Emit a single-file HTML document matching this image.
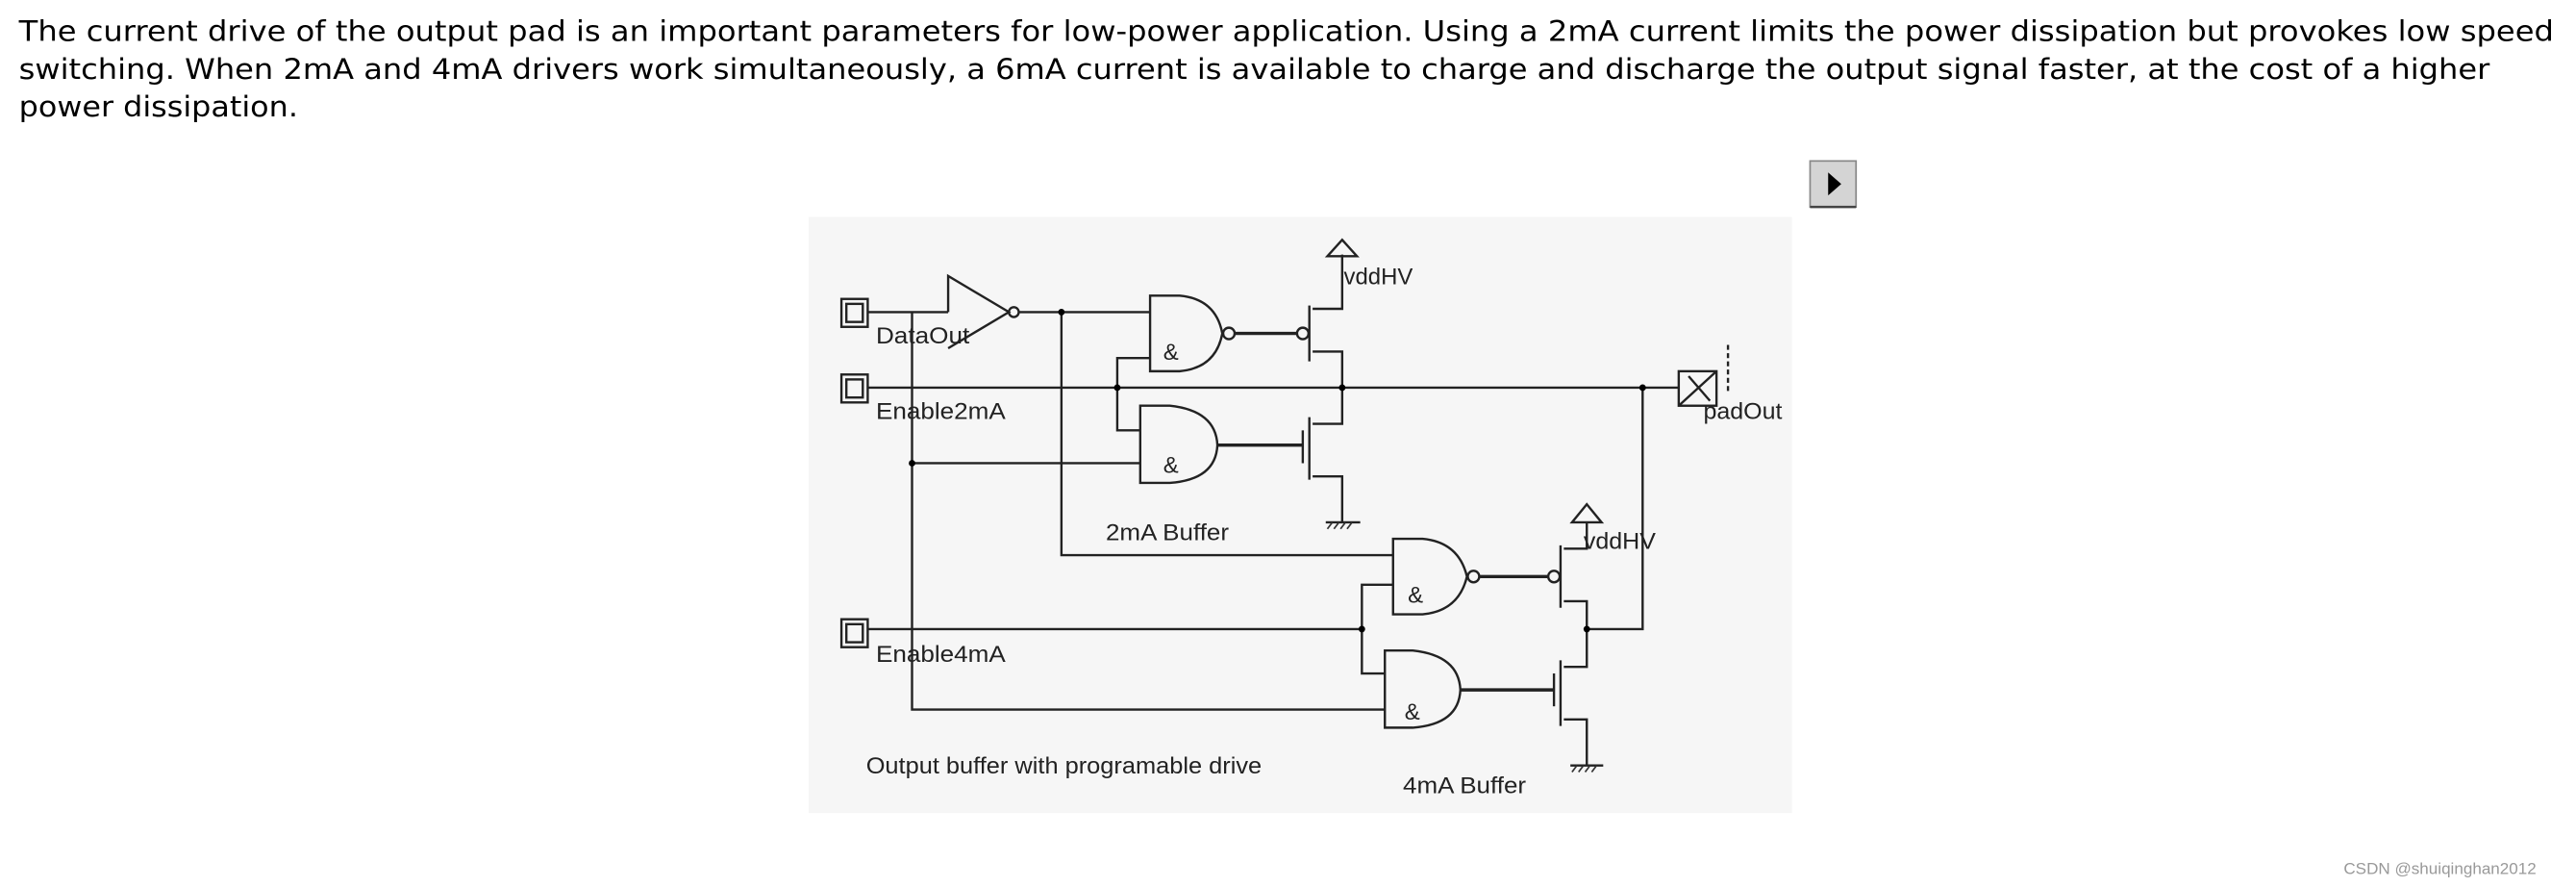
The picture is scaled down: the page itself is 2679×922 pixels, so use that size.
<!DOCTYPE html>
<html><head><meta charset="utf-8"><style>
html,body{margin:0;padding:0;background:#fff;width:2679px;height:922px;overflow:hidden}
svg{display:block}
</style></head><body>
<svg width="2679" height="922" viewBox="0 0 1568 540" xmlns="http://www.w3.org/2000/svg">
<g font-family="DejaVu Sans, Verdana, sans-serif" font-size="17" fill="#000">
<text x="11" y="25" textLength="1544" lengthAdjust="spacingAndGlyphs">The current drive of the output pad is an important parameters for low-power application. Using a 2mA current limits the power dissipation but provokes low speed</text>
<text x="11" y="48" textLength="1505" lengthAdjust="spacingAndGlyphs">switching. When 2mA and 4mA drivers work simultaneously, a 6mA current is available to charge and discharge the output signal faster, at the cost of a higher</text>
<text x="11" y="71" textLength="170" lengthAdjust="spacingAndGlyphs">power dissipation.</text>
</g>
<rect x="1102" y="98" width="28" height="28" fill="#d4d4d4" stroke="#888"/>
<line x1="1102" y1="126" x2="1130" y2="126" stroke="#444" stroke-width="1.5"/>
<polygon points="1113,105 1121,112 1113,119" fill="#000"/>
<rect x="492" y="132" width="599" height="363" fill="#f6f6f6"/>
<g stroke="#222" stroke-width="1.4" fill="none">
<rect x="512" y="182" width="16" height="17"/><rect x="515" y="185" width="10" height="11"/>
<rect x="512" y="228" width="16" height="17"/><rect x="515" y="231" width="10" height="11"/>
<rect x="512" y="377" width="16" height="17"/><rect x="515" y="380" width="10" height="11"/>
<line x1="528" y1="190" x2="577" y2="190"/>
<polyline points="577,190 577,168 614,190 577,212"/>
<circle cx="617" cy="190" r="3"/>
<line x1="620" y1="190" x2="700" y2="190"/>
<polyline points="646,190 646,338 848,338"/>
<polyline points="555,190 555,432 843,432"/>
<line x1="555" y1="282" x2="694" y2="282"/>
<line x1="528" y1="236" x2="1022" y2="236"/>
<polyline points="700,218 680,218 680,262 694,262"/>
<path d="M700,180 L718,180 Q740,182 744,203 Q740,224 718,226 L700,226 Z"/>
<circle cx="748" cy="203" r="3.5"/>
<line x1="752" y1="203" x2="789" y2="203" stroke-width="2"/>
<circle cx="793" cy="203" r="3.5"/>
<path d="M694,247 L712,247 Q740,250 741,271 Q740,292 712,294 L694,294 Z"/>
<line x1="741" y1="271" x2="793" y2="271" stroke-width="2"/>
<line x1="797" y1="186" x2="797" y2="220"/>
<polyline points="799,188 817,188 817,155"/>
<polyline points="799,214 817,214 817,258 799,258"/>
<line x1="797" y1="254" x2="797" y2="292"/>
<line x1="793" y1="262" x2="793" y2="282"/>
<polyline points="799,290 817,290 817,318"/>
<polygon points="808,156 826,156 817,146"/>
<polyline points="1000,236 1000,383 966,383"/>
<path d="M848,328 L866,328 Q888,330 893,351 Q888,372 866,374 L848,374 Z"/>
<circle cx="897" cy="351" r="3.5"/>
<line x1="901" y1="351" x2="942" y2="351" stroke-width="2"/>
<circle cx="946" cy="351" r="3.5"/>
<line x1="528" y1="383" x2="829" y2="383"/>
<polyline points="848,356 829,356 829,410 843,410"/>
<path d="M843,396 L860,396 Q888,399 889,420 Q888,441 860,443 L843,443 Z"/>
<line x1="889" y1="420" x2="946" y2="420" stroke-width="2"/>
<line x1="950" y1="332" x2="950" y2="370"/>
<polyline points="952,334 966,334 966,318"/>
<polyline points="952,366 966,366 966,406 952,406"/>
<line x1="950" y1="402" x2="950" y2="442"/>
<line x1="946" y1="410" x2="946" y2="430"/>
<polyline points="952,438 966,438 966,466"/>
<polygon points="957,318 975,318 966,307"/>
<rect x="1022" y="226" width="23" height="21"/>
<line x1="1022" y1="247" x2="1045" y2="226"/>
<line x1="1028" y1="229" x2="1041" y2="244"/>
<line x1="1052" y1="210" x2="1052" y2="240" stroke-dasharray="3,2"/>
<line x1="807" y1="318" x2="828" y2="318"/>
<line x1="956" y1="466" x2="976" y2="466"/>
</g>
<g stroke="#333" stroke-width="1">
<line x1="808" y1="322" x2="811" y2="318"/><line x1="812" y1="322" x2="815" y2="318"/><line x1="816" y1="322" x2="819" y2="318"/><line x1="820" y1="322" x2="823" y2="318"/>
<line x1="957" y1="470" x2="960" y2="466"/><line x1="961" y1="470" x2="964" y2="466"/><line x1="965" y1="470" x2="968" y2="466"/><line x1="969" y1="470" x2="972" y2="466"/>
</g>
<g fill="#000">
<circle cx="646" cy="190" r="2"/><circle cx="680" cy="236" r="2"/><circle cx="555" cy="282" r="2"/>
<circle cx="817" cy="236" r="2"/><circle cx="1000" cy="236" r="2"/><circle cx="829" cy="383" r="2"/><circle cx="966" cy="383" r="2"/>
</g>
<g font-family="Liberation Sans, Arial, sans-serif" font-size="14" fill="#222">
<text x="533" y="209" textLength="57" lengthAdjust="spacingAndGlyphs">DataOut</text>
<text x="533" y="255" textLength="79" lengthAdjust="spacingAndGlyphs">Enable2mA</text>
<text x="533" y="403" textLength="79" lengthAdjust="spacingAndGlyphs">Enable4mA</text>
<text x="708" y="219">&amp;</text><text x="708" y="288">&amp;</text>
<text x="857" y="367">&amp;</text><text x="855" y="438">&amp;</text>
<text x="818" y="173" textLength="42" lengthAdjust="spacingAndGlyphs">vddHV</text>
<text x="964" y="334" textLength="44" lengthAdjust="spacingAndGlyphs">vddHV</text>
<text x="1037" y="255" textLength="48" lengthAdjust="spacingAndGlyphs">padOut</text>
<text x="673" y="329" textLength="75" lengthAdjust="spacingAndGlyphs">2mA Buffer</text>
<text x="527" y="471" textLength="241" lengthAdjust="spacingAndGlyphs">Output buffer with programable drive</text>
<text x="854" y="483" textLength="75" lengthAdjust="spacingAndGlyphs">4mA Buffer</text>
</g>
<text x="1427" y="532" font-family="Liberation Sans, Arial, sans-serif" font-size="10" fill="#999">CSDN @shuiqinghan2012</text>
</svg>
</body></html>
